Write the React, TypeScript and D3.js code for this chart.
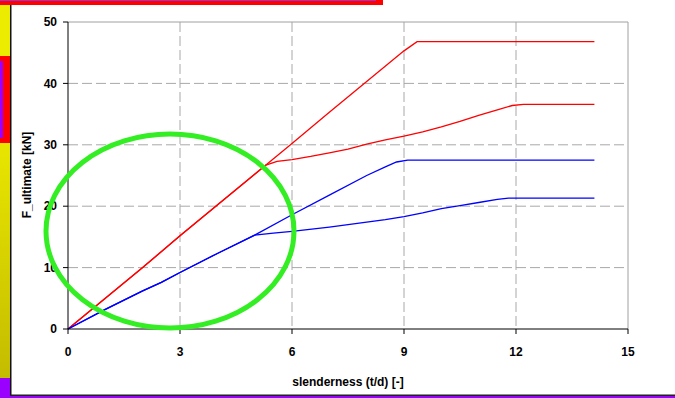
import React from "react";
import * as d3 from "d3";

const xTicks = [0, 3, 6, 9, 12, 15];
const yTicks = [0, 10, 20, 30, 40, 50];

const redUpperX = [0, 1, 2, 3, 4, 5, 6, 7, 8, 9, 9.35, 14.1];
const redUpperY = [0, 5, 10, 15.2, 20.2, 25.2, 30.2, 35.3, 40.3, 45.3, 46.8, 46.8];

const redLowerX = [0, 1, 2, 3, 4, 5, 5.3, 5.6, 6, 6.5, 7, 7.5, 8, 8.5, 9, 9.5, 10, 10.5, 11, 11.5, 11.9, 12.2, 14.1];
const redLowerY = [0, 5, 10, 15.2, 20.2, 25.2, 26.7, 27.3, 27.6, 28.1, 28.7, 29.3, 30.1, 30.8, 31.4, 32.1, 32.9, 33.8, 34.8, 35.7, 36.4, 36.6, 36.6];

const blueUpperX = [0, 1, 2, 2.5, 3, 4, 5, 6, 7, 8, 8.5, 8.8, 9.1, 14.1];
const blueUpperY = [0, 3.2, 6.2, 7.6, 9.2, 12.3, 15.3, 18.6, 21.8, 25, 26.4, 27.2, 27.5, 27.5];

const blueLowerX = [0, 1, 2, 2.5, 3, 4, 5, 5.5, 6, 7, 8, 8.5, 9, 9.5, 10, 10.5, 11, 11.5, 11.8, 14.1];
const blueLowerY = [0, 3.2, 6.2, 7.6, 9.2, 12.3, 15.3, 15.6, 15.9, 16.6, 17.4, 17.8, 18.3, 18.9, 19.6, 20.1, 20.6, 21.1, 21.3, 21.3];

const series = [
  { xs: redUpperX, ys: redUpperY, color: "#ff0000" },
  { xs: redLowerX, ys: redLowerY, color: "#ff0000" },
  { xs: blueUpperX, ys: blueUpperY, color: "#0000ff" },
  { xs: blueLowerX, ys: blueLowerY, color: "#0000ff" },
];

const W = 675;
const H = 398;
const left = 68;
const right = 628;
const top = 22;
const bottom = 329;

export default function App() {
  const x = d3.scaleLinear().domain([0, 15]).range([left, right]);
  const y = d3.scaleLinear().domain([0, 50]).range([bottom, top]);
  const line = d3
    .line<[number, number]>()
    .x((d) => x(d[0]))
    .y((d) => y(d[1]));
  const font = "'Liberation Sans', Arial, sans-serif";

  return (
    <div style={{ position: "absolute", left: 0, top: 0 }}>
      <svg width={W} height={H} style={{ display: "block", background: "#fff" }}>
        <defs>
          <linearGradient id="olive" x1="0" y1="0" x2="0" y2="1">
            <stop offset="0" stopColor="#e8e600" />
            <stop offset="1" stopColor="#c4bc00" />
          </linearGradient>
        </defs>
        {/* left decorative strip */}
        <rect x={0} y={5} width={10} height={51} fill="#ecec00" />
        <rect x={0} y={56} width={10} height={87} fill="#ff0000" />
        <rect x={0} y={61} width={3} height={77} fill="#9900ff" />
        <rect x={0} y={143} width={10} height={235} fill="url(#olive)" />
        <rect x={0} y={378} width={10} height={20} fill="#9900ff" />
        <rect x={10} y={5} width={1.5} height={391} fill="#111" />
        {/* top bar */}
        <rect x={0} y={0} width={383} height={5} fill="#ff0000" />
        <rect x={0} y={0} width={376} height={1} fill="#9933cc" />
        {/* bottom bar */}
        <rect x={10} y={394.5} width={665} height={1.5} fill="#222" />
        <rect x={10} y={396} width={665} height={2} fill="#9900ff" />

        {/* grid */}
        {yTicks.slice(1, -1).map((t) => (
          <line key={"gy" + t} x1={left} x2={right} y1={y(t)} y2={y(t)} stroke="#a8a8a8" strokeWidth={1} strokeDasharray="10,4" />
        ))}
        {xTicks.slice(1, -1).map((t) => (
          <line key={"gx" + t} x1={x(t)} x2={x(t)} y1={top} y2={bottom} stroke="#a8a8a8" strokeWidth={1} strokeDasharray="10,4" />
        ))}
        <line x1={left} x2={right} y1={top} y2={top} stroke="#a0a0a0" strokeWidth={1} />
        <line x1={right} x2={right} y1={top} y2={bottom} stroke="#a0a0a0" strokeWidth={1} />

        {/* series */}
        {series.map((s, i) => (
          <path
            key={i}
            d={line(s.xs.map((v, j) => [v, s.ys[j]] as [number, number])) || ""}
            fill="none"
            stroke={s.color}
            strokeWidth={1.3}
          />
        ))}

        {/* axes */}
        <line x1={left} x2={left} y1={top} y2={bottom} stroke="#000" strokeWidth={1} />
        <line x1={left} x2={right} y1={bottom} y2={bottom} stroke="#000" strokeWidth={1} />
        {yTicks.map((t) => (
          <g key={"yt" + t}>
            <line x1={left - 5} x2={left} y1={y(t)} y2={y(t)} stroke="#000" />
            <text x={left - 11} y={y(t)} dy="0.35em" textAnchor="end" fontFamily={font} fontWeight="bold" fontSize={12}>
              {t}
            </text>
          </g>
        ))}
        {xTicks.map((t) => (
          <g key={"xt" + t}>
            <line x1={x(t)} x2={x(t)} y1={bottom} y2={bottom + 5} stroke="#000" />
            <text x={x(t)} y={bottom + 27} textAnchor="middle" fontFamily={font} fontWeight="bold" fontSize={12}>
              {t}
            </text>
          </g>
        ))}
        <text x={348} y={386} textAnchor="middle" fontFamily={font} fontWeight="bold" fontSize={12}>
          slenderness (t/d) [-]
        </text>
        <text
          transform={`translate(31,${175}) rotate(-90)`}
          textAnchor="middle"
          fontFamily={font}
          fontWeight="bold"
          fontSize={12}
        >
          F_ultimate [kN]
        </text>

        {/* green ellipse */}
        <ellipse cx={170} cy={231} rx={124} ry={97} fill="none" stroke="#33ee22" strokeWidth={5} />
      </svg>
    </div>
  );
}
